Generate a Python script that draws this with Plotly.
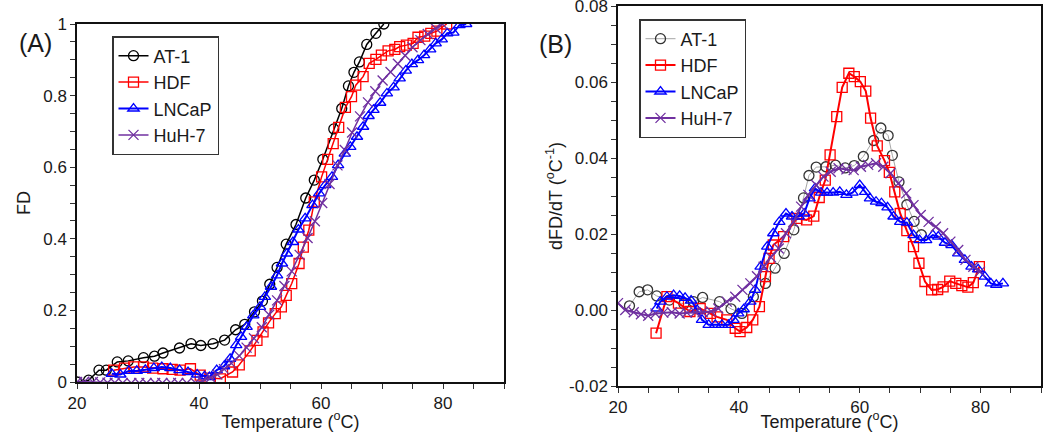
import plotly.graph_objects as go

# ---------------- Panel A: FD vs temperature ----------------
at1_T = [20.0, 21.9, 23.6, 24.8, 26.6, 28.4, 30.9, 32.7, 34.1, 36.8, 38.7, 40.3, 42.3, 44.2, 46.0,
         47.5, 49.1, 50.4, 51.6, 52.8, 54.3, 55.9, 57.5, 58.9, 60.3, 62.1, 63.4, 64.5, 65.4, 66.3,
         67.5, 69.0, 70.3]
at1_FD = [0.0, 0.005, 0.033, 0.033, 0.056, 0.059, 0.068, 0.072, 0.081, 0.095, 0.107, 0.102, 0.107,
          0.117, 0.146, 0.161, 0.196, 0.226, 0.273, 0.320, 0.385, 0.440, 0.514, 0.564, 0.622,
          0.707, 0.764, 0.827, 0.865, 0.894, 0.943, 0.974, 1.0]

hdf_T = [26.0, 27.8, 29.3, 30.9, 32.4, 34.1, 35.6, 36.9, 38.6, 40.2, 41.8, 43.5, 45.5, 46.6, 48.4,
         49.5, 50.5, 51.4, 52.5, 53.5, 54.3, 55.2, 56.4, 57.1, 58.0, 58.9, 60.1, 61.1, 62.0, 62.9,
         64.0, 65.0, 65.7, 66.9, 67.9, 69.0, 69.9, 71.0, 72.1, 72.9, 74.0, 75.1, 75.9, 77.0, 78.0,
         79.0, 80.6]
hdf_FD = [0.033, 0.039, 0.042, 0.042, 0.039, 0.037, 0.035, 0.033, 0.037, 0.019, 0.011, 0.009, 0.028,
          0.048, 0.087, 0.116, 0.140, 0.165, 0.191, 0.210, 0.242, 0.275, 0.331, 0.377, 0.424, 0.503,
          0.573, 0.622, 0.666, 0.711, 0.767, 0.797, 0.829, 0.853, 0.890, 0.901, 0.913, 0.925, 0.929,
          0.937, 0.941, 0.946, 0.963, 0.966, 0.974, 0.980, 1.0]

lncap_T = [25.7, 27.1, 28.5, 29.8, 31.2, 32.6, 33.9, 35.3, 36.8, 38.2, 39.7, 40.9, 41.7, 42.9, 44.1,
           45.1, 46.1, 46.9, 47.8, 48.9, 50.0, 50.8, 51.8, 52.8, 53.6, 54.4, 55.4, 56.3, 57.4, 58.6,
           59.7, 60.7, 61.8, 62.8, 63.9, 64.8, 65.9, 66.9, 67.8, 68.6, 69.7, 70.8, 71.9, 72.9, 73.9,
           74.9, 75.9, 76.9, 77.9, 78.8, 79.8, 80.7, 81.7, 82.7, 83.8]
lncap_FD = [0.023, 0.021, 0.031, 0.031, 0.034, 0.039, 0.042, 0.039, 0.033, 0.028, 0.021, 0.016,
            0.014, 0.033, 0.044, 0.065, 0.103, 0.126, 0.154, 0.186, 0.210, 0.238, 0.266, 0.298,
            0.331, 0.359, 0.391, 0.426, 0.457, 0.494, 0.527, 0.550, 0.573, 0.606, 0.638, 0.657,
            0.685, 0.713, 0.743, 0.760, 0.780, 0.806, 0.823, 0.848, 0.870, 0.888, 0.899, 0.913,
            0.929, 0.946, 0.957, 0.974, 0.976, 0.997, 1.0]

huh7_T = [20.0, 21.2, 22.6, 23.8, 25.0, 26.2, 27.5, 28.9, 30.2, 31.4, 32.8, 34.0, 35.4, 36.6, 38.0,
          39.4, 40.6, 41.9, 43.0, 44.1, 45.3, 46.6, 47.8, 49.0, 50.3, 51.5, 52.8, 54.0, 55.2, 56.5,
          57.8, 59.0, 60.2, 61.4, 62.7, 63.9, 65.1, 66.4, 67.7, 68.9, 70.1, 71.4, 72.6, 73.8, 75.0,
          76.3, 77.5, 78.8, 79.9]
huh7_FD = [0.0, 0.001, 0.0, -0.001, -0.002, -0.002, -0.003, -0.003, -0.003, -0.003, -0.003, -0.003,
           -0.003, -0.003, -0.003, -0.002, 0.003, 0.012, 0.021, 0.036, 0.052, 0.073, 0.096, 0.122,
           0.153, 0.188, 0.228, 0.268, 0.309, 0.355, 0.402, 0.449, 0.500, 0.553, 0.605, 0.648,
           0.697, 0.742, 0.781, 0.812, 0.842, 0.866, 0.889, 0.912, 0.935, 0.955, 0.972, 0.988, 1.0]

# ---------------- Panel B: dFD/dT vs temperature ----------------
at1_dT = [21.9, 23.5, 24.9, 26.4, 28.5, 30.9, 32.5, 34.0, 36.8, 38.7, 40.5, 42.4, 44.4, 46.0, 47.5,
          49.1, 50.7, 51.6, 52.8, 54.4, 56.0, 57.6, 59.1, 60.6, 62.3, 63.5, 64.7, 65.4, 66.5, 67.8,
          69.0, 70.2]
at1_d = [0.0011, 0.0048, 0.0053, 0.0037, 0.0026, 0.0016, 0.0022, 0.0033, 0.0022, 0.0003, -0.0009,
         0.0035, 0.0070, 0.0110, 0.0149, 0.0211, 0.0295, 0.0354, 0.0376, 0.0377, 0.0381, 0.0374,
         0.0380, 0.0404, 0.0446, 0.0479, 0.0459, 0.0407, 0.0337, 0.0277, 0.0233, 0.0198]

hdf_dT = [26.3, 28.1, 30.0, 31.9, 33.6, 35.3, 36.4, 38.0, 39.4, 40.2, 41.3, 42.3, 43.4, 44.4, 45.0,
          45.7, 47.4, 49.6, 51.2, 52.4, 53.3, 54.3, 55.1, 56.2, 57.1, 58.2, 59.1, 60.1, 61.0, 61.8,
          62.9, 64.1, 64.9, 65.8, 66.7, 67.8, 68.9, 69.8, 70.8, 71.9, 72.9, 73.8, 74.9, 75.9, 76.9,
          77.9, 78.8, 79.8]
hdf_d = [-0.0061, 0.0035, 0.0018, -0.0004, 0.0004, -0.0009, -0.0018, -0.0026, -0.0048, -0.0057,
         -0.0046, -0.0026, 0.0009, 0.0088, 0.0136, 0.0171, 0.0193, 0.0241, 0.0237, 0.0247, 0.0296,
         0.0342, 0.0408, 0.0509, 0.0586, 0.0623, 0.0614, 0.0601, 0.0576, 0.0505, 0.0432, 0.0393,
         0.0362, 0.0311, 0.0254, 0.0209, 0.0167, 0.0123, 0.0075, 0.0053, 0.0054, 0.0061, 0.0076,
         0.0070, 0.0064, 0.0060, 0.0072, 0.0114]

lncap_dT = [26.4, 27.0, 28.1, 29.2, 30.2, 31.1, 32.1, 33.1, 33.9, 35.0, 36.1, 37.2, 38.3, 39.1, 39.9,
            40.8, 41.9, 42.7, 43.6, 44.7, 45.7, 46.7, 47.8, 48.8, 49.9, 50.8, 51.7, 52.6, 53.6, 54.6,
            55.6, 56.7, 57.8, 58.8, 60.0, 60.9, 61.7, 62.7, 63.6, 64.6, 65.6, 66.7, 67.8, 68.9, 69.9,
            71.0, 72.1, 73.0, 74.1, 75.2, 76.3, 77.4, 78.5, 79.6, 80.7, 81.7, 82.6, 83.7]
lncap_d = [0.0004, 0.0022, 0.0035, 0.0039, 0.0037, 0.0032, 0.0025, 0.0000, -0.0026, -0.0039,
           -0.0039, -0.0039, -0.0039, -0.0026, -0.0009, 0.0002, 0.0022, 0.0053, 0.0114, 0.0167,
           0.0202, 0.0232, 0.0254, 0.0246, 0.0246, 0.0254, 0.0294, 0.0320, 0.0309, 0.0309, 0.0309,
           0.0311, 0.0303, 0.0309, 0.0329, 0.0311, 0.0294, 0.0285, 0.0281, 0.0270, 0.0246, 0.0232,
           0.0230, 0.0197, 0.0184, 0.0184, 0.0197, 0.0193, 0.0177, 0.0171, 0.0149, 0.0132, 0.0114,
           0.0107, 0.0088, 0.0070, 0.0066, 0.0070]

huh7_dT = huh7_T
huh7_d = [0.0018, 0.0000, -0.0006, -0.0011, -0.0015, -0.0009, -0.0007, -0.0006, -0.0009, -0.0007,
          -0.0006, -0.0006, -0.0004, 0.0004, 0.0022, 0.0035, 0.0053, 0.0070, 0.0089, 0.0114, 0.0139,
          0.0162, 0.0202, 0.0232, 0.0272, 0.0303, 0.0329, 0.0351, 0.0364, 0.0373, 0.0370, 0.0368,
          0.0377, 0.0382, 0.0386, 0.0377, 0.0360, 0.0333, 0.0307, 0.0276, 0.0250, 0.0232, 0.0219,
          0.0202, 0.0180, 0.0158, 0.0132, 0.0114, 0.0101]

names = ["AT-1", "HDF", "LNCaP", "HuH-7"]

xtick_vals = [20, 40, 60, 80]
xtick_text = ["20", "40", "60", "80"]
ya_vals = [0, 0.2, 0.4, 0.6, 0.8, 1.0]
ya_text = ["0", "0.2", "0.4", "0.6", "0.8", "1"]
yb_vals = [-0.02, 0.0, 0.02, 0.04, 0.06, 0.08]
yb_text = ["-0.02", "0.00", "0.02", "0.04", "0.06", "0.08"]

FONT = "Liberation Sans, Arial, sans-serif"
TXT = "#1a1a1a"

fig = go.Figure()

styleA = [
    dict(color="#000000", sym="circle-open", lw=1.5, mc="#000000"),
    dict(color="#ff0000", sym="square-open", lw=1.5, mc="#ff0000"),
    dict(color="#0000ff", sym="triangle-up-open", lw=2, mc="#0000ff"),
    dict(color="#7030a0", sym="x-thin-open", lw=1.5, mc="#7030a0"),
]
dataA = [(at1_T, at1_FD), (hdf_T, hdf_FD), (lncap_T, lncap_FD), (huh7_T, huh7_FD)]
for nm, (xs, ys), st in zip(names, dataA, styleA):
    fig.add_trace(go.Scatter(
        x=xs, y=ys, name=nm, mode="lines+markers", xaxis="x", yaxis="y", legend="legend",
        line=dict(color=st["color"], width=st["lw"]),
        marker=dict(symbol=st["sym"], size=10, color=st["mc"], line=dict(width=1.3, color=st["mc"])),
    ))

styleB = [
    dict(color="#a6a6a6", sym="circle-open", lw=1, mc="#333333"),
    dict(color="#ff0000", sym="square-open", lw=2, mc="#ff0000"),
    dict(color="#0000ff", sym="triangle-up-open", lw=2, mc="#0000ff"),
    dict(color="#7030a0", sym="x-thin-open", lw=2, mc="#7030a0"),
]
dataB = [(at1_dT, at1_d), (hdf_dT, hdf_d), (lncap_dT, lncap_d), (huh7_dT, huh7_d)]
for nm, (xs, ys), st in zip(names, dataB, styleB):
    fig.add_trace(go.Scatter(
        x=xs, y=ys, name=nm, mode="lines+markers", xaxis="x2", yaxis="y2", legend="legend2",
        line=dict(color=st["color"], width=st["lw"]),
        marker=dict(symbol=st["sym"], size=10, color=st["mc"], line=dict(width=1.3, color=st["mc"])),
    ))

W, H = 1050, 432
axis_common = dict(
    showline=True, linecolor="#111111", linewidth=1.5, mirror=True,
    ticks="outside", ticklen=5, tickwidth=1, tickcolor="#333333",
    showgrid=False, zeroline=False, automargin=False, ticklabeloverflow="allow",
    tickfont=dict(family=FONT, size=17, color=TXT),
)

fig.update_layout(
    width=W, height=H,
    margin=dict(l=0, r=0, t=0, b=0, autoexpand=False),
    paper_bgcolor="white", plot_bgcolor="white",
    font=dict(family=FONT, size=17, color=TXT),
    xaxis=dict(domain=[77 / W, 504 / W], range=[20, 90], anchor="y",
               tickvals=xtick_vals, ticktext=xtick_text,
               minor=dict(dtick=5, ticks="outside", ticklen=5, tickcolor="#333333"),
               title=dict(text="Temperature (<sup>o</sup>C)", standoff=1,
                          font=dict(family=FONT, size=18, color=TXT)),
               **axis_common),
    yaxis=dict(domain=[1 - 382 / H, 1 - 24 / H], range=[0, 1], anchor="x",
               tickvals=ya_vals, ticktext=ya_text,
               minor=dict(dtick=0.05, ticks="outside", ticklen=5, tickcolor="#333333"),
               title=dict(text="FD", standoff=8, font=dict(family=FONT, size=18, color=TXT)),
               **axis_common),
    xaxis2=dict(domain=[618 / W, 1041 / W], range=[20, 90], anchor="y2",
                tickvals=xtick_vals, ticktext=xtick_text,
                minor=dict(dtick=5, ticks="outside", ticklen=5, tickcolor="#333333"),
                title=dict(text="Temperature (<sup>o</sup>C)", standoff=6,
                           font=dict(family=FONT, size=18, color=TXT)),
                **axis_common),
    yaxis2=dict(domain=[1 - 386 / H, 1 - 6 / H], range=[-0.02, 0.08], anchor="x2",
                tickvals=yb_vals, ticktext=yb_text,
                minor=dict(dtick=0.005, ticks="outside", ticklen=5, tickcolor="#333333"),
                title=dict(text="dFD/dT (<sup>o</sup>C<sup>-1</sup>)", standoff=2,
                           font=dict(family=FONT, size=18, color=TXT)),
                **axis_common),
    legend=dict(x=112 / W, y=1 - 36 / H, xanchor="left", yanchor="top",
                bgcolor="white", bordercolor="#333333", borderwidth=1.5,
                font=dict(family=FONT, size=18, color=TXT), tracegroupgap=0),
    legend2=dict(x=639 / W, y=1 - 19 / H, xanchor="left", yanchor="top",
                 bgcolor="white", bordercolor="#333333", borderwidth=1.5,
                 font=dict(family=FONT, size=18, color=TXT), tracegroupgap=0),
    annotations=[
        dict(text="(A)", x=17 / W, y=1 - 27 / H, xref="paper", yref="paper",
             showarrow=False, font=dict(family=FONT, size=25, color=TXT)),
        dict(text="(B)", x=555 / W, y=1 - 28 / H, xref="paper", yref="paper",
             showarrow=False, font=dict(family=FONT, size=25, color=TXT)),
    ],
)

fig.write_html("out.html", config={"displayModeBar": False},
               post_script=["document.body.style.margin='0px';"])
